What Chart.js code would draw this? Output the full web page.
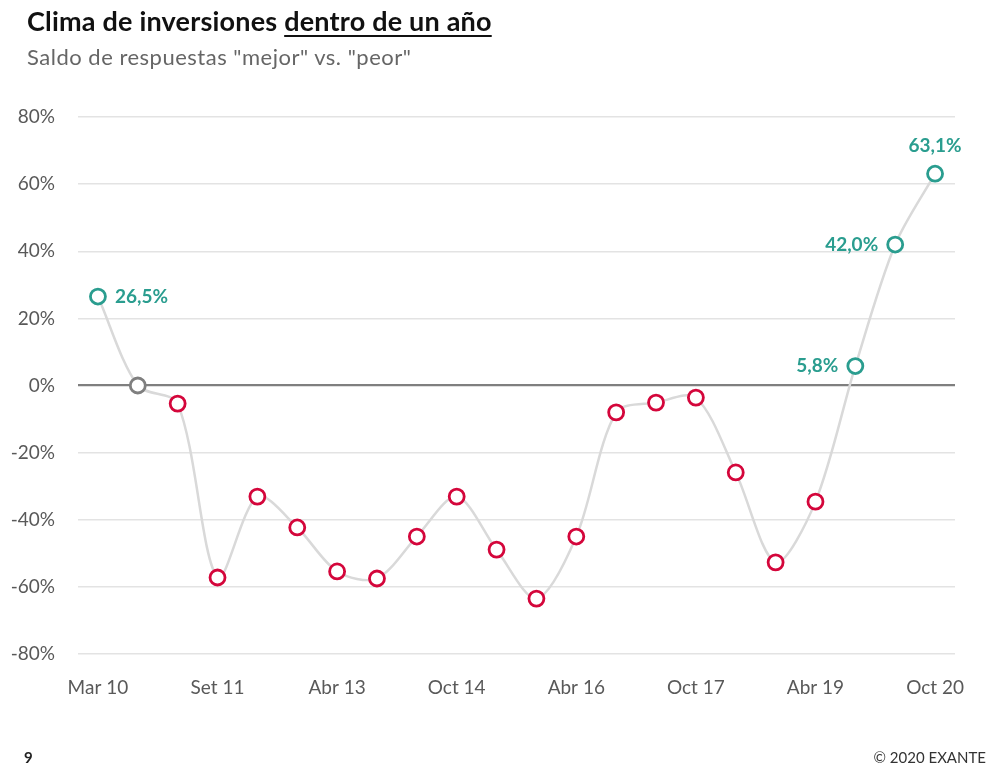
<!DOCTYPE html>
<html><head><meta charset="utf-8">
<script src="https://cdn.jsdelivr.net/npm/chart.js@4"></script>
<style>
html,body{margin:0;padding:0;background:#fff;width:1000px;height:780px;overflow:hidden;font-family:Lato,"Open Sans",sans-serif}
#wrap{position:absolute;left:0;top:0;width:1000px;height:780px}
.t{position:absolute;left:27px;top:4px;font-size:27px;font-weight:bold;color:#111;letter-spacing:0.2px;white-space:nowrap}
.t u{text-decoration-thickness:2px;text-underline-offset:4px}
.s{position:absolute;left:27px;top:43px;font-size:22px;color:#666;letter-spacing:0.5px;white-space:nowrap}
.p{position:absolute;left:24px;top:748px;font-size:15px;font-weight:bold;color:#222}
.c{position:absolute;right:14px;top:748px;font-size:15px;color:#333}
</style></head>
<body>
<div id="wrap"><canvas id="ch" width="1000" height="780"></canvas></div>
<div class="t">Clima de inversiones <u>dentro de un año</u></div>
<div class="s">Saldo de respuestas "mejor" vs. "peor"</div>
<div class="p">9</div>
<div class="c">© 2020 EXANTE</div>
<script>
const categories = ["Mar 10","Set 10","Mar 11","Set 11","Mar 12","Oct 12","Abr 13","Oct 13","Abr 14","Oct 14","Abr 15","Oct 15","Abr 16","Oct 16","Abr 17","Oct 17","Abr 18","Oct 18","Abr 19","Oct 19","Abr 20","Oct 20"];
const saldo = [26.5, 0, -5.4, -57.2, -33.1, -42.3, -55.4, -57.5, -45.0, -33.1, -48.9, -63.5, -45.0, -8.0, -5.1, -3.6, -25.9, -52.7, -34.6, 5.8, 42.0, 63.1];
const shownLabels = ["Mar 10","Set 11","Abr 13","Oct 14","Abr 16","Oct 17","Abr 19","Oct 20"];
const labeledPoints = [0, 19, 20, 21];
const labelPlacement = ["right","left","left","top"];

const TEAL = "#2a9d8f", RED = "#d4063b", GREY = "#7f7f7f";
const colorFor = v => v > 0 ? TEAL : (v < 0 ? RED : GREY);
const fmt = v => v.toFixed(1).replace(".", ",") + "%";

const labelPlugin = {
  id: "valLabels",
  afterDatasetsDraw(chart) {
    const ctx = chart.ctx, meta = chart.getDatasetMeta(0);
    ctx.save();
    ctx.font = "bold 19px Lato, 'Open Sans', sans-serif";
    ctx.fillStyle = TEAL;
    labeledPoints.forEach((i, k) => {
      const el = meta.data[i], v = saldo[i], pos = labelPlacement[k];
      let x = el.x, y = el.y;
      if (pos === "right") { ctx.textAlign = "left"; ctx.textBaseline = "middle"; x += 17; }
      else if (pos === "left") { ctx.textAlign = "right"; ctx.textBaseline = "middle"; x -= 17; }
      else { ctx.textAlign = "center"; ctx.textBaseline = "bottom"; y -= 18; }
      ctx.fillText(fmt(v), x, y);
    });
    ctx.restore();
  }
};

new Chart(document.getElementById("ch"), {
  type: "line",
  data: {
    labels: categories,
    datasets: [{
      data: saldo,
      borderColor: "#d9d9d9",
      borderWidth: 2.5,
      tension: 0.3,
      pointRadius: 7.5,
      pointHoverRadius: 7.5,
      pointBorderWidth: 2.8,
      pointBackgroundColor: "#fff",
      pointBorderColor: saldo.map(colorFor)
    }]
  },
  options: {
    responsive: false,
    animation: false,
    devicePixelRatio: 1,
    layout: { padding: { top: 117, right: 45, left: 0, bottom: 0 } },
    plugins: { legend: { display: false }, tooltip: { enabled: false } },
    scales: {
      x: {
        offset: true,
        grid: { display: false, drawTicks: false },
        border: { display: false },
        afterFit: s => { s.height = 126; },
        ticks: {
          autoSkip: false, maxRotation: 0, padding: 22,
          color: "#595959", font: { size: 19, family: "Lato, 'Open Sans', sans-serif" },
          callback: function(v, i) { const l = categories[i]; return shownLabels.includes(l) ? l : ""; }
        }
      },
      y: {
        min: -80, max: 80,
        afterFit: s => { s.width = 78; },
        grid: {
          drawTicks: false,
          color: ctx => ctx.tick && ctx.tick.value === 0 ? "#7f7f7f" : "#e3e3e3",
          lineWidth: ctx => ctx.tick && ctx.tick.value === 0 ? 2.2 : 1.5
        },
        border: { display: false },
        ticks: {
          stepSize: 20, padding: 23,
          color: "#595959", font: { size: 19, family: "Lato, 'Open Sans', sans-serif" },
          callback: v => v + "%"
        }
      }
    }
  },
  plugins: [labelPlugin]
});
</script>
</body></html>
